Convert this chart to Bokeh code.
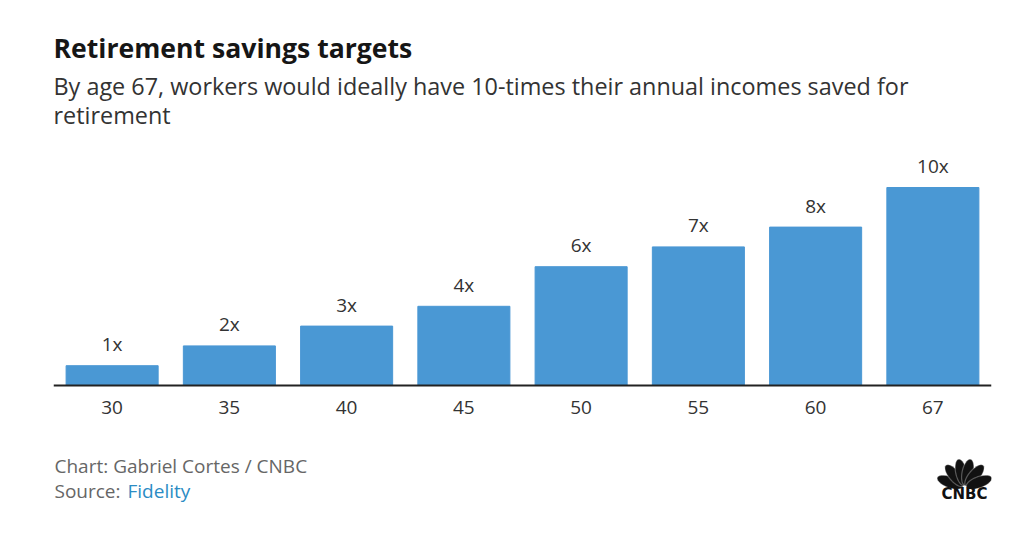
import math
from bokeh.plotting import figure
from bokeh.models import FactorRange, Range1d, Label, PolyAnnotation
from bokeh.core.properties import value
from bokeh.embed import file_html
from bokeh.resources import INLINE

ages = ["30", "35", "40", "45", "50", "55", "60", "67"]
multiples = [1, 2, 3, 4, 6, 7, 8, 10]
bar_labels = ["1x", "2x", "3x", "4x", "6x", "7x", "8x", "10x"]

title_text = "Retirement savings targets"
subtitle_lines = ["By age 67, workers would ideally have 10-times their annual incomes saved for",
                  "retirement"]
credit_text = "Chart: Gabriel Cortes / CNBC"
source_prefix = "Source: "
source_name = "Fidelity"

FONT = "Open Sans"
BAR = "#4A98D4"
W, H = 1024, 539
LEFT, RIGHT, BASE = 53, 991, 385
PX_PER_UNIT = 19.8

p = figure(width=W, height=H, output_backend="svg", toolbar_location=None,
           x_range=FactorRange(*ages, range_padding=0),
           y_range=Range1d(-(H - BASE) / PX_PER_UNIT, BASE / PX_PER_UNIT),
           min_border_left=LEFT, min_border_right=W - RIGHT, min_border_top=0, min_border_bottom=0)
p.outline_line_color = None
p.grid.grid_line_color = None
p.yaxis.visible = False
p.background_fill_color = "white"
p.border_fill_color = "white"

p.vbar(x=ages, top=multiples, bottom=0, width=0.785, color=BAR)
p.text(x=ages, y=multiples, text=bar_labels, text_align="center", text_baseline="middle",
       y_offset=-21.5, text_font=value(FONT), text_font_size="19px", text_color="#333333")

ax = p.xaxis[0]
ax.fixed_location = 0
ax.axis_line_color = "#222222"
ax.axis_line_width = 2
ax.major_tick_line_color = None
ax.minor_tick_line_color = None
ax.major_label_text_font = FONT
ax.major_label_text_font_size = "19px"
ax.major_label_text_color = "#333333"
ax.major_label_standoff = 9

# frame-relative screen coords: origin at frame bottom-left (page x=LEFT, y=H)
def lab(text, px, py, size, color, style="normal", font=FONT, align="left"):
    p.add_layout(Label(x=px - LEFT, y=H - py, x_units="screen", y_units="screen", text=text,
                       text_font=font, text_font_size=size, text_color=color,
                       text_font_style=style, text_baseline="middle", text_align=align))

lab(title_text, 53, 47, "26.6px", "#161616", "bold")
lab(subtitle_lines[0], 53, 85, "23.4px", "#333333")
lab(subtitle_lines[1], 53, 114.5, "23.4px", "#333333")
lab(credit_text, 54, 465.5, "19px", "#666666")
lab(source_prefix, 54, 490, "19px", "#666666")
lab(source_name, 127, 490, "19px", "#2B8CC4")

# CNBC peacock logo (decorative)
cx, cy = 964, 487
for ang in [160, 130, 102, 78, 50, 20]:
    a = math.radians(ang)
    xs, ys = [], []
    for k in range(28):
        t = 2 * math.pi * k / 28
        u = 15.5 + 13.5 * math.cos(t)
        v = 5.6 * math.sin(t)
        gx = cx + u * math.cos(a) - v * math.sin(a)
        gy = cy - (u * math.sin(a) + v * math.cos(a))
        xs.append(gx - LEFT)
        ys.append(H - gy)
    p.add_layout(PolyAnnotation(xs=xs, ys=ys, xs_units="screen", ys_units="screen",
                                fill_color="#111111", fill_alpha=1, line_color="white", line_width=1.2))
lab("CNBC", 964, 493.5, "15px", "#111111", "bold", "DejaVu Sans", "center")

open("out.html", "w").write(file_html(p, INLINE))
